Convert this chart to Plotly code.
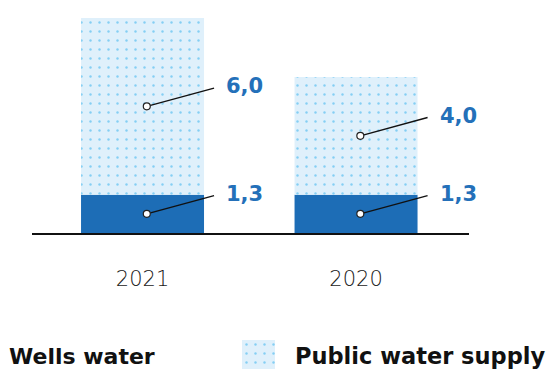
import plotly.graph_objects as go

# Water consumption by source
years = ["2021", "2020"]
wells_water = [1.3, 1.3]
public_supply = [6.0, 4.0]
wells_labels = ["1,3", "1,3"]
public_labels = ["6,0", "4,0"]

W, H = 550, 369
DARK = "#1d6db6"
LIGHT_BG = "#dff0fb"
DOTS = "#2aaeec"
LABEL_BLUE = "#2470b9"
FONT = "DejaVu Sans"

x_pos = list(range(len(years)))
bar_width = 0.576
dot_dx = 0.02
line_dx = 0.335
line_dy = 0.62

dot_pattern = dict(shape=".", bgcolor=LIGHT_BG, fgcolor=DOTS,
                   size=9, solidity=0.06)

fig = go.Figure()

fig.add_trace(go.Bar(
    x=x_pos, y=wells_water, width=bar_width, name="Wells water",
    marker=dict(color=DARK, line=dict(width=0)), showlegend=False,
    hoverinfo="skip",
))
fig.add_trace(go.Bar(
    x=x_pos, y=public_supply, base=wells_water, width=bar_width,
    name="Public water supply",
    marker=dict(color=LIGHT_BG, line=dict(width=0), pattern=dot_pattern),
    showlegend=False, hoverinfo="skip",
))

# leader lines with hollow dots and value labels
for i, xi in enumerate(x_pos):
    segments = [
        (wells_water[i] / 2, wells_labels[i]),
        (wells_water[i] + public_supply[i] / 2, public_labels[i]),
    ]
    for ymid, label in segments:
        x0, y0 = xi + dot_dx, ymid
        x1, y1 = xi + line_dx, ymid + line_dy
        fig.add_trace(go.Scatter(
            x=[x0, x1], y=[y0, y1], mode="lines",
            line=dict(color="#111111", width=1.4),
            showlegend=False, hoverinfo="skip",
        ))
        fig.add_trace(go.Scatter(
            x=[x0], y=[y0], mode="markers",
            marker=dict(size=7, color="white",
                        line=dict(color="#222222", width=1.2)),
            showlegend=False, hoverinfo="skip",
        ))
        fig.add_annotation(
            x=x1, y=y1, text=label, showarrow=False,
            xanchor="left", yanchor="middle", xshift=10, yshift=2,
            font=dict(family=FONT, size=21, color=LABEL_BLUE,
                      weight="bold"),
        )

# legend swatch drawn as a small patterned bar
fig.add_trace(go.Bar(
    x=[0], y=[1], width=1, xaxis="x2", yaxis="y2",
    marker=dict(color=LIGHT_BG, line=dict(width=0), pattern=dot_pattern),
    showlegend=False, hoverinfo="skip",
))

fig.add_annotation(
    xref="paper", yref="paper", x=7 / W, y=1 - 356 / H,
    text="Wells water", showarrow=False, xanchor="left", yanchor="middle",
    font=dict(family=FONT, size=22, color="#111111", weight="bold"),
)
fig.add_annotation(
    xref="paper", yref="paper", x=293 / W, y=1 - 356 / H,
    text="Public water supply", showarrow=False, xanchor="left",
    yanchor="middle",
    font=dict(family=FONT, size=22.5, color="#111111", weight="bold"),
)

total_max = max(w + p for w, p in zip(wells_water, public_supply))

fig.update_layout(
    width=W, height=H,
    margin=dict(l=0, r=0, t=0, b=0),
    paper_bgcolor="white", plot_bgcolor="white",
    barmode="overlay",
    xaxis=dict(
        domain=[32 / W, 469 / W], range=[-0.5176, 1.529],
        tickvals=x_pos, ticktext=years, ticks="",
        showline=True, linecolor="#111111", linewidth=2,
        showgrid=False, zeroline=False, ticklabelstandoff=26,
        tickfont=dict(family=FONT, size=21, color="#1a1a1a", weight=300),
        fixedrange=True,
    ),
    yaxis=dict(
        domain=[1 - 233 / H, 1 - 18 / H], range=[0, total_max],
        visible=False, showgrid=False, zeroline=False, fixedrange=True,
    ),
    xaxis2=dict(domain=[242 / W, 275 / W], range=[-0.5, 0.5],
                visible=False, anchor="y2", fixedrange=True),
    yaxis2=dict(domain=[0, 29 / H], range=[0, 1], visible=False,
                anchor="x2", fixedrange=True),
)

fig.write_html("out.html")
